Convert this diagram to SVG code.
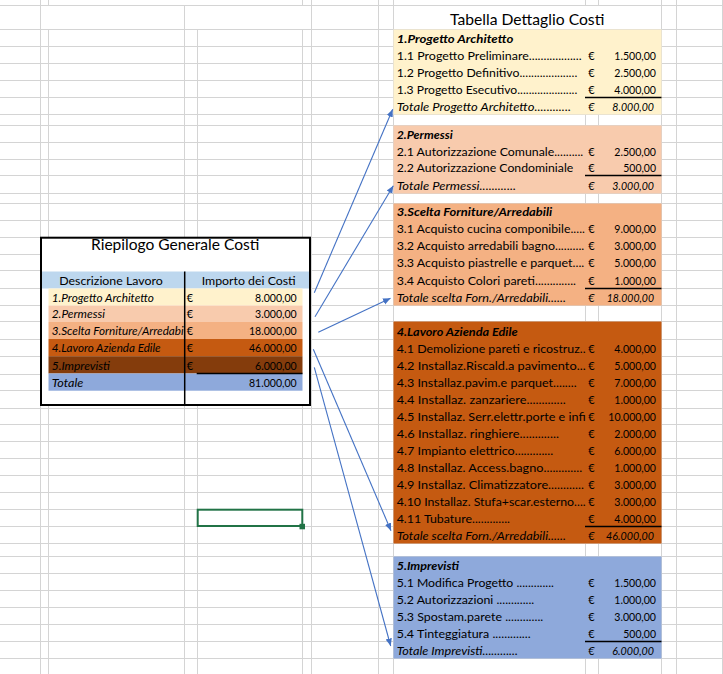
<svg xmlns="http://www.w3.org/2000/svg" width="723" height="674" viewBox="0 0 723 674">
<style>
.g{stroke:#D4D4D4;stroke-width:1;fill:none}
text{font-family:Lato,"Liberation Sans",sans-serif;fill:#000}
.t{font-size:11px}
.h{font-size:11.6px;font-weight:bold;font-style:italic}
.i{font-size:11px;font-style:italic}
.n{font-size:11px;text-anchor:end}
.ni{font-size:11px;text-anchor:end;font-style:italic}
.ttl{font-size:15.3px}
.ul{stroke:#000;stroke-width:1.3}
.cn{stroke:#4472C4;stroke-width:1.1;fill:none;marker-end:url(#ah)}
</style>
<defs>
<marker id="ah" markerUnits="userSpaceOnUse" markerWidth="8" markerHeight="8" viewBox="0 0 8 8" refX="7.5" refY="4" orient="auto">
<path d="M0,0.8 L7.5,4 L0,7.2 Z" fill="#4472C4"/>
</marker>
</defs>
<rect x="0" y="0" width="723" height="674" fill="#FFFFFF"/>
<g id="grid">
<path class="g" d="M0,5.5H723M0,29.5H723M0,46.5H723M0,63.5H723M0,80.5H723M0,97.5H723M0,114.5H723M0,125.5H723M0,142.5H723M0,159.5H723M0,175.5H723M0,193.5H723M0,203.5H723M0,220.5H723M0,237.5H723M0,254.5H723M0,270.5H723M0,288.5H723M0,305.5H723M0,321.5H723M0,339.5H723M0,356.5H723M0,374.5H723M0,390.5H723M0,408.5H723M0,424.5H723M0,441.5H723M0,458.5H723M0,475.5H723M0,492.5H723M0,509.5H723M0,526.5H723M0,543.5H723M0,556.5H723M0,573.5H723M0,590.5H723M0,607.5H723M0,624.5H723M0,641.5H723M0,658.5H723"/>
<path class="g" d="M40.5,0V674M48.5,0V5.5M48.5,29.5V674M184.5,5.5V674M197.5,29.5V674M302.5,0V5.5M302.5,29.5V674M311.5,0V674M378.5,0V674M393.5,0V674M585.5,0V5.5M585.5,29.5V674M598.5,0V5.5M598.5,29.5V674M661.5,0V674M676.5,0V674M722.5,0V674"/>
</g>
<g id="summary">
<rect x="40" y="237" width="271" height="169" fill="#FFFFFF"/>
<rect x="40" y="271.5" width="271" height="17" fill="#BDD7EE"/>
<rect x="48.5" y="288.5" width="254" height="17" fill="#FFF2CC"/>
<rect x="48.5" y="305.5" width="254" height="16.5" fill="#F8CBAD"/>
<rect x="48.5" y="322" width="254" height="17" fill="#F4B183"/>
<rect x="48.5" y="339" width="254" height="17.2" fill="#C55A11"/>
<rect x="48.5" y="356.2" width="254" height="17.3" fill="#843C0C"/>
<rect x="48.5" y="373.5" width="254" height="17.2" fill="#8EA9DB"/>
<line x1="196.7" y1="373.5" x2="302.5" y2="373.5" class="ul"/>
<line x1="184.7" y1="271.5" x2="184.7" y2="405" stroke="#000" stroke-width="1.5"/>
<rect x="41" y="237.7" width="269" height="167.3" fill="none" stroke="#000" stroke-width="2"/>
<text class="ttl" x="91" y="250" textLength="168.3" lengthAdjust="spacingAndGlyphs">Riepilogo Generale Costi</text>
<text class="t" x="59.3" y="285" textLength="103.4" lengthAdjust="spacingAndGlyphs">Descrizione Lavoro</text>
<text class="t" x="201.7" y="285" textLength="94" lengthAdjust="spacingAndGlyphs">Importo dei Costi</text>
<text class="i" x="51.7" y="301.7" textLength="102.3" lengthAdjust="spacingAndGlyphs">1.Progetto Architetto</text>
<text class="i" x="51.7" y="318.3" textLength="53.3" lengthAdjust="spacingAndGlyphs">2.Permessi</text>
<text class="i" x="51.7" y="335" textLength="132" lengthAdjust="spacingAndGlyphs">3.Scelta Forniture/Arredabi</text>
<text class="i" x="51.7" y="352.3" textLength="109" lengthAdjust="spacingAndGlyphs">4.Lavoro Azienda Edile</text>
<text class="i" x="51.7" y="369.7" textLength="58.3" lengthAdjust="spacingAndGlyphs">5.Imprevisti</text>
<text class="i" x="51.7" y="386.7" textLength="31.6" lengthAdjust="spacingAndGlyphs">Totale</text>
<text class="t" x="186.7" y="301.7">€</text>
<text class="t" x="186.7" y="318.3">€</text>
<text class="t" x="186.7" y="335">€</text>
<text class="t" x="186.7" y="352.3">€</text>
<text class="t" x="186.7" y="369.7">€</text>
<text class="n" x="296.7" y="301.7" textLength="41.7" lengthAdjust="spacingAndGlyphs">8.000,00</text>
<text class="n" x="296.7" y="318.3" textLength="41.7" lengthAdjust="spacingAndGlyphs">3.000,00</text>
<text class="n" x="296.7" y="335" textLength="47.7" lengthAdjust="spacingAndGlyphs">18.000,00</text>
<text class="n" x="296.7" y="352.3" textLength="47.7" lengthAdjust="spacingAndGlyphs">46.000,00</text>
<text class="n" x="296.7" y="369.7" textLength="41.7" lengthAdjust="spacingAndGlyphs">6.000,00</text>
<text class="n" x="296.7" y="386.7" textLength="47.7" lengthAdjust="spacingAndGlyphs">81.000,00</text>
</g>
<g id="detail-title">
<text class="ttl" x="450" y="25" textLength="154.3" lengthAdjust="spacingAndGlyphs">Tabella Dettaglio Costi</text>
</g>
<g id="detail-1">
<rect x="393.5" y="29.5" width="268" height="85" fill="#FFF2CC"/>
<line x1="585" y1="97.5" x2="661.5" y2="97.5" class="ul"/>
<text class="h" x="396.7" y="42.7" textLength="116.6" lengthAdjust="spacingAndGlyphs">1.Progetto Architetto</text>
<text class="t" x="396.7" y="60" textLength="185" lengthAdjust="spacingAndGlyphs">1.1 Progetto Preliminare..................</text>
<text class="t" x="396.7" y="76.7" textLength="180.6" lengthAdjust="spacingAndGlyphs">1.2 Progetto Definitivo....................</text>
<text class="t" x="396.7" y="94" textLength="180.6" lengthAdjust="spacingAndGlyphs">1.3 Progetto Esecutivo.....................</text>
<text class="i" x="396.7" y="110.7" textLength="174.3" lengthAdjust="spacingAndGlyphs">Totale Progetto Architetto............</text>
<text class="t" x="588.3" y="60">€</text>
<text class="t" x="588.3" y="76.7">€</text>
<text class="t" x="588.3" y="94">€</text>
<text class="i" x="588.3" y="110.7">€</text>
<text class="n" x="656" y="60" textLength="41.7" lengthAdjust="spacingAndGlyphs">1.500,00</text>
<text class="n" x="656" y="76.7" textLength="41.7" lengthAdjust="spacingAndGlyphs">2.500,00</text>
<text class="n" x="656" y="94" textLength="41.7" lengthAdjust="spacingAndGlyphs">4.000,00</text>
<text class="ni" x="654" y="110.7" textLength="41.7" lengthAdjust="spacingAndGlyphs">8.000,00</text>
</g>
<g id="detail-2">
<rect x="393.5" y="125.5" width="268" height="68" fill="#F8CBAD"/>
<line x1="585" y1="175.5" x2="661.5" y2="175.5" class="ul"/>
<text class="h" x="396.7" y="139.3" textLength="56" lengthAdjust="spacingAndGlyphs">2.Permessi</text>
<text class="t" x="396.7" y="156" textLength="186.6" lengthAdjust="spacingAndGlyphs">2.1 Autorizzazione Comunale..........</text>
<text class="t" x="396.7" y="172.4" textLength="176.6" lengthAdjust="spacingAndGlyphs">2.2 Autorizzazione Condominiale</text>
<text class="i" x="396.7" y="190" textLength="119.3" lengthAdjust="spacingAndGlyphs">Totale Permessi............</text>
<text class="t" x="588.3" y="156">€</text>
<text class="t" x="588.3" y="172.4">€</text>
<text class="i" x="588.3" y="190">€</text>
<text class="n" x="656" y="156" textLength="41.7" lengthAdjust="spacingAndGlyphs">2.500,00</text>
<text class="n" x="656" y="172.4" textLength="32.7" lengthAdjust="spacingAndGlyphs">500,00</text>
<text class="ni" x="654" y="190" textLength="41.7" lengthAdjust="spacingAndGlyphs">3.000,00</text>
</g>
<g id="detail-3">
<rect x="393.5" y="203.5" width="268" height="102" fill="#F4B183"/>
<line x1="585" y1="288.5" x2="661.5" y2="288.5" class="ul"/>
<text class="h" x="396.7" y="216.3" textLength="155.6" lengthAdjust="spacingAndGlyphs">3.Scelta Forniture/Arredabili</text>
<text class="t" x="396.7" y="233.3" textLength="188.3" lengthAdjust="spacingAndGlyphs">3.1 Acquisto cucina componibile.....</text>
<text class="t" x="396.7" y="250.3" textLength="187.6" lengthAdjust="spacingAndGlyphs">3.2 Acquisto arredabili bagno..........</text>
<text class="t" x="396.7" y="267.2" textLength="187.6" lengthAdjust="spacingAndGlyphs">3.3 Acquisto piastrelle e parquet....</text>
<text class="t" x="396.7" y="285" textLength="179.3" lengthAdjust="spacingAndGlyphs">3.4 Acquisto Colori pareti..............</text>
<text class="i" x="396.7" y="301.8" textLength="169.3" lengthAdjust="spacingAndGlyphs">Totale scelta Forn./Arredabili......</text>
<text class="t" x="588.3" y="233.3">€</text>
<text class="t" x="588.3" y="250.3">€</text>
<text class="t" x="588.3" y="267.2">€</text>
<text class="t" x="588.3" y="285">€</text>
<text class="i" x="588.3" y="301.8">€</text>
<text class="n" x="656" y="233.3" textLength="41.7" lengthAdjust="spacingAndGlyphs">9.000,00</text>
<text class="n" x="656" y="250.3" textLength="41.7" lengthAdjust="spacingAndGlyphs">3.000,00</text>
<text class="n" x="656" y="267.2" textLength="41.7" lengthAdjust="spacingAndGlyphs">5.000,00</text>
<text class="n" x="656" y="285" textLength="41.7" lengthAdjust="spacingAndGlyphs">1.000,00</text>
<text class="ni" x="654" y="301.8" textLength="47.3" lengthAdjust="spacingAndGlyphs">18.000,00</text>
</g>
<g id="detail-4">
<rect x="393.5" y="321.5" width="268" height="222" fill="#C55A11"/>
<line x1="585" y1="526.5" x2="661.5" y2="526.5" class="ul"/>
<text class="h" x="396.7" y="335.5" textLength="121" lengthAdjust="spacingAndGlyphs">4.Lavoro Azienda Edile</text>
<text class="t" x="396.7" y="352.7" textLength="189" lengthAdjust="spacingAndGlyphs">4.1 Demolizione pareti e ricostruz..</text>
<text class="t" x="396.7" y="370" textLength="189" lengthAdjust="spacingAndGlyphs">4.2 Installaz.Riscald.a pavimento...</text>
<text class="t" x="396.7" y="387" textLength="180" lengthAdjust="spacingAndGlyphs">4.3 Installaz.pavim.e parquet........</text>
<text class="t" x="396.7" y="404.3" textLength="169" lengthAdjust="spacingAndGlyphs">4.4 Installaz. zanzariere.............</text>
<text class="t" x="396.7" y="421" textLength="189" lengthAdjust="spacingAndGlyphs">4.5 Installaz. Serr.elettr.porte e infi</text>
<text class="t" x="396.7" y="438.3" textLength="162.3" lengthAdjust="spacingAndGlyphs">4.6 Installaz. ringhiere.............</text>
<text class="t" x="396.7" y="455" textLength="156.6" lengthAdjust="spacingAndGlyphs">4.7 Impianto elettrico.............</text>
<text class="t" x="396.7" y="472.3" textLength="185.6" lengthAdjust="spacingAndGlyphs">4.8 Installaz. Access.bagno.............</text>
<text class="t" x="396.7" y="489" textLength="187.3" lengthAdjust="spacingAndGlyphs">4.9 Installaz. Climatizzatore............</text>
<text class="t" x="396.7" y="506.3" textLength="189" lengthAdjust="spacingAndGlyphs">4.10 Installaz. Stufa+scar.esterno....</text>
<text class="t" x="396.7" y="523" textLength="113.3" lengthAdjust="spacingAndGlyphs">4.11 Tubature.............</text>
<text class="i" x="396.7" y="539.8" textLength="169.3" lengthAdjust="spacingAndGlyphs">Totale scelta Forn./Arredabili......</text>
<text class="t" x="588.3" y="352.7">€</text>
<text class="t" x="588.3" y="370">€</text>
<text class="t" x="588.3" y="387">€</text>
<text class="t" x="588.3" y="404.3">€</text>
<text class="t" x="588.3" y="421">€</text>
<text class="t" x="588.3" y="438.3">€</text>
<text class="t" x="588.3" y="455">€</text>
<text class="t" x="588.3" y="472.3">€</text>
<text class="t" x="588.3" y="489">€</text>
<text class="t" x="588.3" y="506.3">€</text>
<text class="t" x="588.3" y="523">€</text>
<text class="i" x="588.3" y="539.8">€</text>
<text class="n" x="656" y="352.7" textLength="41.7" lengthAdjust="spacingAndGlyphs">4.000,00</text>
<text class="n" x="656" y="370" textLength="41.7" lengthAdjust="spacingAndGlyphs">5.000,00</text>
<text class="n" x="656" y="387" textLength="41.7" lengthAdjust="spacingAndGlyphs">7.000,00</text>
<text class="n" x="656" y="404.3" textLength="41.7" lengthAdjust="spacingAndGlyphs">1.000,00</text>
<text class="n" x="656" y="421" textLength="47.7" lengthAdjust="spacingAndGlyphs">10.000,00</text>
<text class="n" x="656" y="438.3" textLength="41.7" lengthAdjust="spacingAndGlyphs">2.000,00</text>
<text class="n" x="656" y="455" textLength="41.7" lengthAdjust="spacingAndGlyphs">6.000,00</text>
<text class="n" x="656" y="472.3" textLength="41.7" lengthAdjust="spacingAndGlyphs">1.000,00</text>
<text class="n" x="656" y="489" textLength="41.7" lengthAdjust="spacingAndGlyphs">3.000,00</text>
<text class="n" x="656" y="506.3" textLength="41.7" lengthAdjust="spacingAndGlyphs">3.000,00</text>
<text class="n" x="656" y="523" textLength="41.7" lengthAdjust="spacingAndGlyphs">4.000,00</text>
<text class="ni" x="654" y="539.8" textLength="48" lengthAdjust="spacingAndGlyphs">46.000,00</text>
</g>
<g id="detail-5">
<rect x="393.5" y="556.5" width="268" height="102" fill="#8EA9DB"/>
<line x1="585" y1="641.5" x2="661.5" y2="641.5" class="ul"/>
<text class="h" x="396.7" y="569.8" textLength="62.3" lengthAdjust="spacingAndGlyphs">5.Imprevisti</text>
<text class="t" x="396.7" y="587" textLength="157.3" lengthAdjust="spacingAndGlyphs">5.1 Modifica Progetto .............</text>
<text class="t" x="396.7" y="603.8" textLength="137.6" lengthAdjust="spacingAndGlyphs">5.2 Autorizzazioni .............</text>
<text class="t" x="396.7" y="620.5" textLength="146.6" lengthAdjust="spacingAndGlyphs">5.3 Spostam.parete .............</text>
<text class="t" x="396.7" y="637.8" textLength="134" lengthAdjust="spacingAndGlyphs">5.4 Tinteggiatura .............</text>
<text class="i" x="396.7" y="654.5" textLength="121.3" lengthAdjust="spacingAndGlyphs">Totale Imprevisti............</text>
<text class="t" x="588.3" y="587">€</text>
<text class="t" x="588.3" y="603.8">€</text>
<text class="t" x="588.3" y="620.5">€</text>
<text class="t" x="588.3" y="637.8">€</text>
<text class="i" x="588.3" y="654.5">€</text>
<text class="n" x="656" y="587" textLength="41.7" lengthAdjust="spacingAndGlyphs">1.500,00</text>
<text class="n" x="656" y="603.8" textLength="41.7" lengthAdjust="spacingAndGlyphs">1.000,00</text>
<text class="n" x="656" y="620.5" textLength="41.7" lengthAdjust="spacingAndGlyphs">3.000,00</text>
<text class="n" x="656" y="637.8" textLength="32.7" lengthAdjust="spacingAndGlyphs">500,00</text>
<text class="ni" x="654" y="654.5" textLength="41.7" lengthAdjust="spacingAndGlyphs">6.000,00</text>
</g>
<g id="connectors">
<line class="cn" x1="314.3" y1="292.7" x2="392.7" y2="109.3"/>
<line class="cn" x1="315" y1="316.7" x2="393.3" y2="185.7"/>
<line class="cn" x1="318.3" y1="332.3" x2="390.5" y2="298.3"/>
<line class="cn" x1="313.3" y1="349.3" x2="391" y2="530.7"/>
<line class="cn" x1="314.3" y1="367.3" x2="390.7" y2="646"/>
</g>
<g id="selection">
<rect x="197.7" y="509.7" width="104.6" height="16.3" fill="none" stroke="#217346" stroke-width="2"/>
<rect x="299.5" y="523.8" width="5.5" height="5.5" fill="#217346"/>
</g>
</svg>
